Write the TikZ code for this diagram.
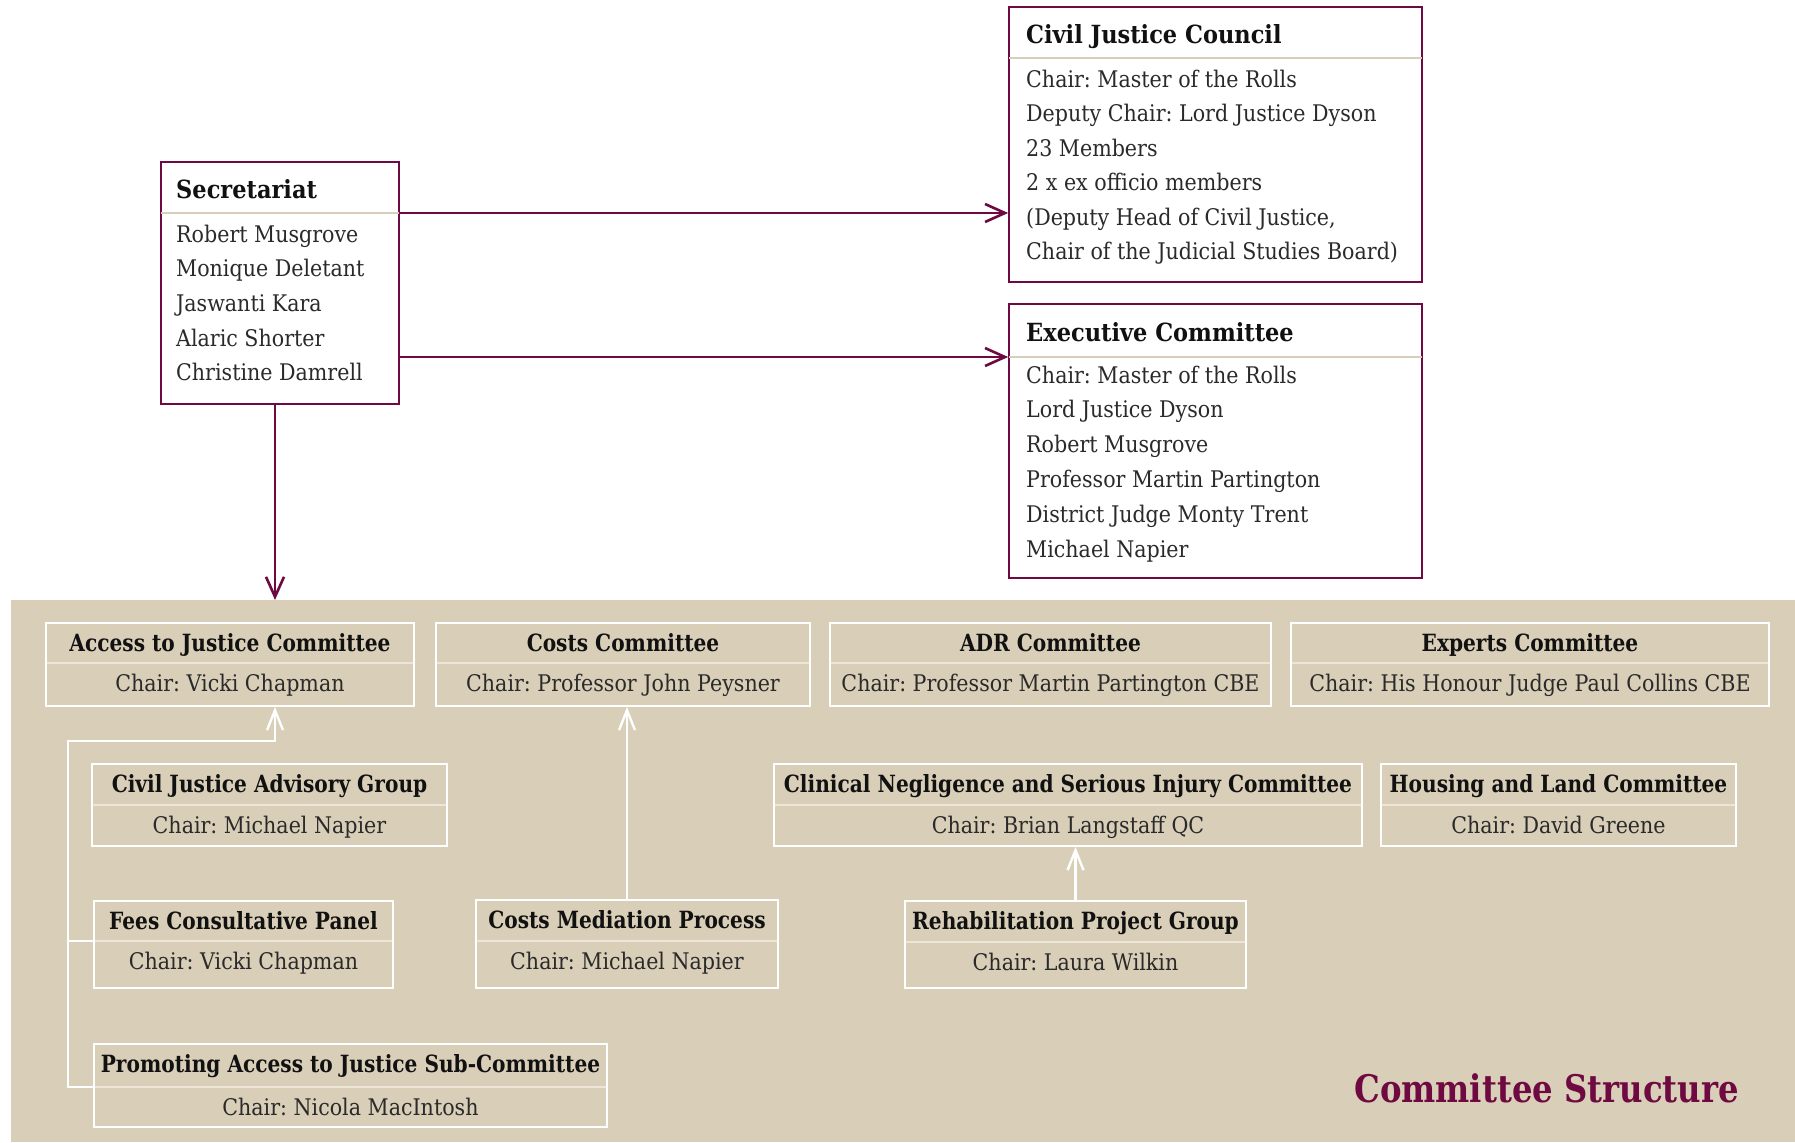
\documentclass[tikz,border=0pt]{standalone}
\usepackage{fontspec}
\setmainfont{DejaVu Serif}
\newfontfamily\hfont[FakeStretch=0.85]{DejaVu Serif Bold}
\newfontfamily\thfont[FakeStretch=0.9]{DejaVu Serif Bold}
\newfontfamily\bfont[FakeStretch=0.9]{DejaVu Serif}
\frenchspacing
\usetikzlibrary{arrows.meta}
\definecolor{mrn}{HTML}{6E0A41}
\definecolor{paneltan}{HTML}{D9CEB7}
\definecolor{lightsep}{HTML}{EDE6D8}
\definecolor{headtxt}{HTML}{111111}
\definecolor{bodytxt}{HTML}{2A2A2A}
\tikzset{
  mbox/.style={draw=mrn, line width=1.6bp, fill=white, inner sep=0pt},
  wbox/.style={draw=white, line width=1.8bp, inner sep=0pt},
  msep/.style={draw=paneltan, line width=2bp},
  wsep/.style={draw=lightsep, line width=2bp},
  thead/.style={font=\thfont\fontsize{25bp}{28bp}\selectfont, text=headtxt, inner sep=0pt, anchor=base west},
  tbody/.style={font=\bfont\fontsize{22.9bp}{28bp}\selectfont, text=bodytxt, inner sep=0pt, anchor=base west},
  bhead/.style={font=\hfont\fontsize{23.7bp}{28bp}\selectfont, text=headtxt, inner sep=0pt, anchor=base},
  bbody/.style={font=\bfont\fontsize{22.9bp}{28bp}\selectfont, text=bodytxt, inner sep=0pt, anchor=base},
  marrow/.style={draw=mrn, line width=2.6bp, -{Straight Barb[length=20bp, width=18bp]}},
  warrow/.style={draw=white, line width=2.4bp, -{Straight Barb[length=20bp, width=16bp]}},
  wline/.style={draw=white, line width=2.4bp},
}
\newcommand\combox[8]{%
  \pgfmathsetmacro\cw{#4-#2}\pgfmathsetmacro\ch{#6-#3}%
  \draw[wsep] (#2,#5) -- (#4,#5);
  \coordinate (#1sep) at (#2,#5);
  \node[wbox, minimum width=\cw bp, minimum height=\ch bp] (#1) at ({(#2+#4)/2},{(#3+#6)/2}) {};
  \node[bhead] (#1h) at ({(#2+#4)/2},{#3+28}) {#7};
  \node[bbody] (#1b) at ({(#2+#4)/2},{#5+28}) {#8};
}
\begin{document}
\begin{tikzpicture}[x=1bp, y=-1bp]
\useasboundingbox (0,0) rectangle (1795,1142);
\fill[white] (0,0) rectangle (1795,1142);

% bottom panel
\node[fill=paneltan, draw=none, inner sep=0pt, outer sep=0pt, minimum width=1784bp, minimum height=542bp] (panel) at (903,871) {};

% Secretariat
\node[mbox, minimum width=238bp, minimum height=242bp] (sec) at (280,283) {};
\coordinate (secsep) at (161,213);
\draw[msep] ([xshift=0.8bp]sec.west |- secsep) -- ([xshift=-0.8bp]sec.east |- secsep);
\node[thead] (sech) at (176,198) {Secretariat};
\foreach \t [count=\i] in {Robert Musgrove, Monique Deletant, Jaswanti Kara, Alaric Shorter, Christine Damrell}
  \node[tbody] (secl\i) at (176,{242+34.7*(\i-1)}) {\t};

% Civil Justice Council
\node[mbox, minimum width=413bp, minimum height=275bp] (cjc) at (1215.5,144.5) {};
\coordinate (cjcsep) at (1009,58);
\draw[msep] ([xshift=0.8bp]cjc.west |- cjcsep) -- ([xshift=-0.8bp]cjc.east |- cjcsep);
\node[thead] (cjch) at (1026,43) {Civil Justice Council};
\foreach \t [count=\i] in {Chair: Master of the Rolls, Deputy Chair: Lord Justice Dyson, 23 Members, 2 x ex officio members, {(Deputy Head of Civil Justice,}, Chair of the Judicial Studies Board)}
  \node[tbody] (cjcl\i) at (1026,{87+34.5*(\i-1)}) {\t};

% Executive Committee
\node[mbox, minimum width=413bp, minimum height=274bp] (exec) at (1215.5,441) {};
\coordinate (execsep) at (1009,357);
\draw[msep] ([xshift=0.8bp]exec.west |- execsep) -- ([xshift=-0.8bp]exec.east |- execsep);
\node[thead] (exech) at (1026,341) {Executive Committee};
\foreach \t [count=\i] in {Chair: Master of the Rolls, Lord Justice Dyson, Robert Musgrove, Professor Martin Partington, District Judge Monty Trent, Michael Napier}
  \node[tbody] (execl\i) at (1026,{383+34.8*(\i-1)}) {\t};

% maroon connectors
\coordinate (a1) at (275,0);
\draw[marrow] (sec.east |- secsep) -- (cjc.west |- secsep);
\draw[marrow] (sec.east |- execsep) -- (exec.west |- execsep);
\draw[marrow] (sec.south -| a1) -- (panel.north -| a1);

% committee boxes
\combox{acc}{46}{623}{414}{663}{706}{Access to Justice Committee}{Chair: Vicki Chapman}
\combox{cost}{436}{623}{810}{663}{706}{Costs Committee}{Chair: Professor John Peysner}
\combox{adr}{830}{623}{1271}{663}{706}{ADR Committee}{Chair: Professor Martin Partington CBE}
\combox{exp}{1291}{623}{1769}{663}{706}{Experts Committee}{Chair: His Honour Judge Paul Collins CBE}
\combox{cjag}{92}{764}{447}{805}{846}{Civil Justice Advisory Group}{Chair: Michael Napier}
\combox{clin}{774}{764}{1362}{805}{846}{Clinical Negligence and Serious Injury Committee}{Chair: Brian Langstaff QC}
\combox{hous}{1381}{764}{1736}{805}{846}{Housing and Land Committee}{Chair: David Greene}
\combox{fees}{94}{901}{393}{941}{988}{Fees Consultative Panel}{Chair: Vicki Chapman}
\combox{med}{476}{900}{778}{941}{988}{Costs Mediation Process}{Chair: Michael Napier}
\combox{reh}{905}{901}{1246}{942}{988}{Rehabilitation Project Group}{Chair: Laura Wilkin}
\combox{prom}{94}{1044}{607}{1087}{1127}{Promoting Access to Justice Sub-Committee}{Chair: Nicola MacIntosh}

% white connectors
\coordinate (brk) at (68,741);
\draw[warrow] (prom.west |- promsep) -- (brk |- promsep) -- (brk) -- (brk -| a1) -- (acc.south -| a1);
\draw[wline] (fees.west |- feessep) -- (brk |- feessep);
\draw[warrow] (med.north) -- (med.north |- cost.south);
\draw[warrow] (reh.north) -- (reh.north |- clin.south);

% title
\node[anchor=base east, inner sep=0pt, font=\hfont\fontsize{38bp}{40bp}\selectfont, text=mrn] (title) at (1739,1102) {Committee Structure};
\end{tikzpicture}
\end{document}
